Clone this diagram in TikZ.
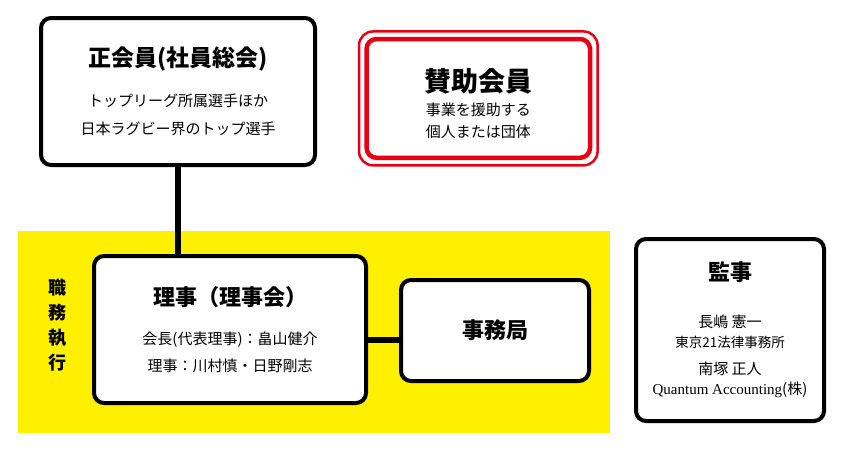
\documentclass[tikz,border=0pt]{standalone}
\usepackage{fontspec}
\setmainfont{Noto Sans CJK JP}
\newfontfamily\lserif{Liberation Serif}
\definecolor{kiiro}{RGB}{255,240,0}
\definecolor{aka}{RGB}{230,0,18}
\newcommand{\fsz}[2]{\fontsize{#1}{#2}\selectfont}
\tikzset{
    box/.style={draw, line width=4pt, rounded corners=10pt, fill=white, align=center}, % 各組織の枠
    link/.style={line width=6pt}, % 接続線
    head/.style={font=\fsz{22}{22}\bfseries} % 見出しの文字
}

\begin{document}
\begin{tikzpicture}[x=1pt, y=-1pt]
    \useasboundingbox (0,0) rectangle (842,453);
    \def\xmin{18} \def\xmax{610} \def\ymin{231} \def\ymax{433}
    \fill[kiiro] (\xmin,\ymin) rectangle (\xmax,\ymax);

    \node[box, minimum width=274pt, minimum height=147pt, font=\fsz{15}{28}] (seikai) at (178,91.5)
        {{\fsz{23}{23}\bfseries 正会員(社員総会)}\\[12pt]トップリーグ所属選手ほか\\日本ラグビー界のトップ選手};
    \node[box, draw=aka, line width=4.5pt, minimum width=223.5pt, minimum height=118.8pt, font=\fsz{15}{22}] (sanjo) at (478.3,98.4)
        {\rule{0pt}{33pt}{\fsz{27}{27}\bfseries 賛助会員}\\[1.5pt]事業を援助する\\個人または団体};
    \draw[aka, line width=2.5pt, rounded corners=14pt] ([xshift=-5.3pt,yshift=5.3pt]sanjo.north west) rectangle ([xshift=5.3pt,yshift=-5.3pt]sanjo.south east);

    \node[font=\fsz{18}{25}\bfseries, align=center] (shokumu) at (57,325.5) {職\\務\\執\\行};
    \node[box, minimum width=272pt, minimum height=147pt, font=\fsz{15}{27}] (riji) at (230,329.5)
        {{\fsz{22}{22}\bfseries 理事（理事会）}\\[12pt]会長(代表理事)：畠山健介\\理事：川村慎・日野剛志};
    \node[box, head, minimum width=188pt, minimum height=101pt] (jimu) at (495,330.5) {事務局};
    \node[box, minimum width=188pt, minimum height=182pt, font=\fsz{15}{20}] (kansa) at (730,330)
        {{\fsz{22}{22}\bfseries 監事}\\[27pt]長嶋 憲一\\{\fsz{13.5}{13.5}東京21法律事務所}\\[7pt]南塚 正人\\{\lserif Quantum Accounting}(株)};

    \coordinate (jl) at (0,339.5);
    \draw[link] (seikai.south) -- (seikai.south |- riji.north);
    \draw[link] (riji.east |- jl) -- (jimu.west |- jl);
\end{tikzpicture}
\end{document}
